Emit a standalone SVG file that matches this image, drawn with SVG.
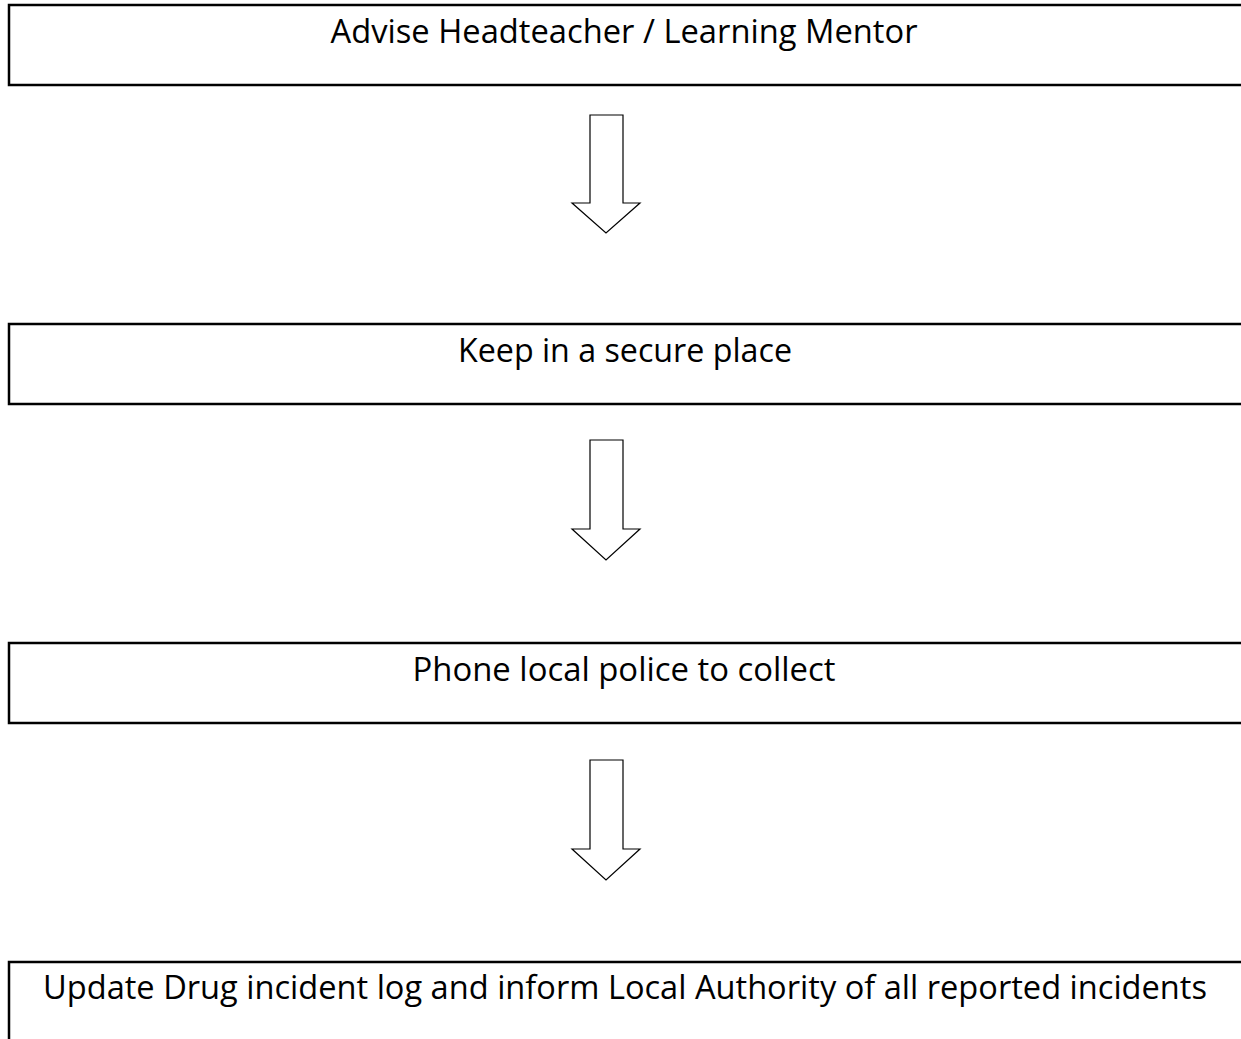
<svg xmlns="http://www.w3.org/2000/svg" width="1241" height="1039" viewBox="0 0 1241 1039">
<style>
.box{fill:#fff;stroke:#000;stroke-width:2.5}
.lbl{font-family:"Open Sans","Noto Sans",sans-serif;font-size:32px;fill:#000;text-anchor:middle}
.arr{fill:#fff;stroke:#000;stroke-width:1.2;stroke-linejoin:miter}
</style>
<rect width="1241" height="1039" fill="#fff"/>
<g id="connectors">
<path class="arr" d="M590,115 H623 V203 H640 L606,233 L572,203 H590 Z"/>
<path class="arr" d="M590,440 H623 V529 H640 L606,560 L572,529 H590 Z"/>
<path class="arr" d="M590,760 H623 V849 H640 L606,880 L572,849 H590 Z"/>
</g>
<g id="node1">
<rect class="box" x="9" y="5" width="1260" height="80"/>
<text class="lbl" x="624" y="43" textLength="587" lengthAdjust="spacingAndGlyphs">Advise Headteacher / Learning Mentor</text>
</g>
<g id="node2">
<rect class="box" x="9" y="324" width="1260" height="80"/>
<text class="lbl" x="625" y="362" textLength="334" lengthAdjust="spacingAndGlyphs">Keep in a secure place</text>
</g>
<g id="node3">
<rect class="box" x="9" y="643" width="1260" height="80"/>
<text class="lbl" x="624" y="681" textLength="423" lengthAdjust="spacingAndGlyphs">Phone local police to collect</text>
</g>
<g id="node4">
<rect class="box" x="9" y="962" width="1260" height="100"/>
<text class="lbl" x="625" y="999" textLength="1164" lengthAdjust="spacingAndGlyphs">Update Drug incident log and inform Local Authority of all reported incidents</text>
</g>
</svg>
